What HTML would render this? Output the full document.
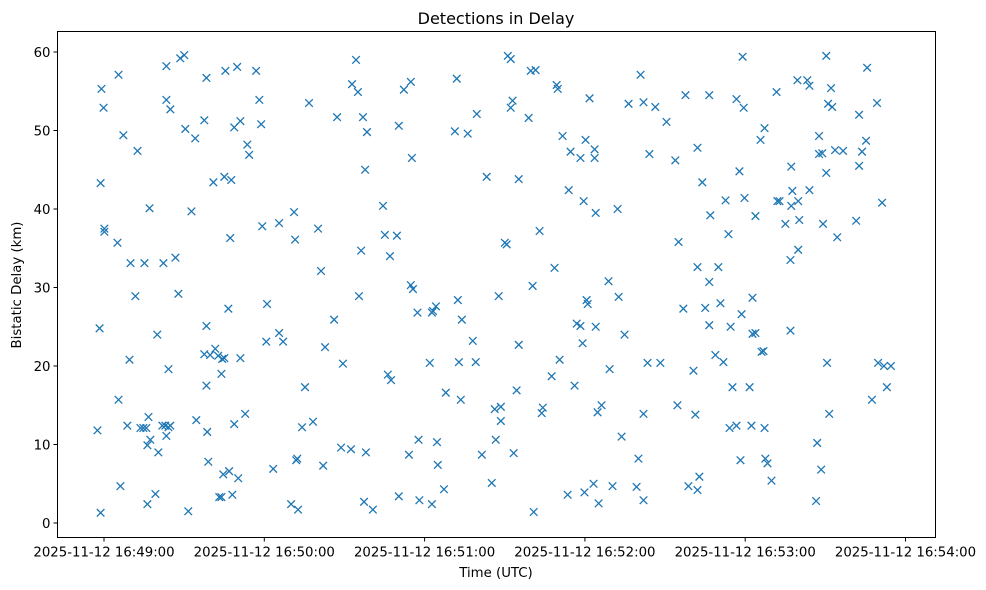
<!DOCTYPE html>
<html><head><meta charset="utf-8"><style>
body{margin:0;background:#fff;}
svg{display:block;font-family:"DejaVu Sans","Liberation Sans",sans-serif;}
</style></head><body>
<svg id="chart" width="986" height="590">
<rect x="0" y="0" width="986" height="590" fill="#fff"/>
<text x="496" y="24" text-anchor="middle" font-size="16">Detections in Delay</text>
<text x="496" y="577" text-anchor="middle" font-size="13.3">Time (UTC)</text>
<text transform="translate(21,285) rotate(-90)" text-anchor="middle" font-size="13.3">Bistatic Delay (km)</text>
<g id="marks"></g>
<g id="axes"></g>
</svg>
<script>
const xTickLabels=["2025-11-12 16:49:00","2025-11-12 16:50:00","2025-11-12 16:51:00","2025-11-12 16:52:00","2025-11-12 16:53:00","2025-11-12 16:54:00"];
const xTickSeconds=[0,60,120,180,240,300];
const yTickValues=[0,10,20,30,40,50,60];
const timesSec=[-1.9,-0.7,-1.1,-0.4,-0.7,0.7,0.4,0.7,6.0,6.0,5.6,6.7,7.8,9.3,10.1,10.5,12.3,13.1,14.2,15.3,15.7,16.4,16.8,17.2,17.6,17.9,16.8,19.8,20.5,20.9,22.4,22.8,23.5,23.9,23.9,23.9,24.7,25.4,24.7,25.4,27.3,28.4,29.1,30.6,31.0,32.1,33.3,34.7,35.1,38.1,38.1,38.9,38.9,38.9,39.2,39.6,40.3,41.5,42.2,43.3,43.7,44.5,44.5,44.8,45.2,45.6,46.0,45.6,47.1,47.4,47.8,48.2,48.6,49.3,49.3,50.4,50.8,51.6,51.6,53.4,54.2,54.9,57.5,58.7,59.4,59.8,61.3,61.6,63.9,66.1,66.1,67.6,70.6,71.7,72.1,72.5,72.9,73.2,74.7,75.8,77.3,78.8,80.7,81.8,82.6,83.3,86.7,87.8,89.3,90.0,93.0,93.4,94.9,95.6,96.0,96.8,97.5,97.9,98.3,98.6,99.0,101.2,105.0,105.7,106.8,107.6,108.0,110.2,110.9,110.9,112.8,114.7,115.4,115.4,115.8,116.2,117.9,118.3,118.6,123.3,122.5,123.3,123.7,124.8,125.2,125.5,127.8,128.5,131.9,132.6,133.0,133.4,134.1,134.5,136.7,138.6,139.7,140.1,142.0,143.8,145.7,146.8,147.2,148.3,149.1,149.1,150.6,151.3,151.7,152.8,152.8,153.5,153.9,155.0,155.8,155.8,159.5,160.3,161.0,161.4,162.1,163.6,164.4,164.8,168.1,169.2,170.0,170.4,171.1,172.2,174.1,174.5,175.2,176.7,177.5,178.9,178.9,179.7,180.1,180.4,180.8,181.2,181.6,182.3,183.8,184.2,184.2,184.6,184.6,185.3,185.7,186.8,189.4,189.8,190.9,192.8,193.2,194.3,195.4,196.9,199.9,200.6,201.4,202.5,202.5,202.5,204.0,204.7,206.9,208.8,211.1,214.4,215.2,215.6,217.4,218.2,219.3,221.2,221.9,222.7,222.7,223.4,222.7,224.5,225.6,227.1,227.1,227.5,227.1,229.4,230.5,231.3,232.4,233.2,234.3,234.7,235.1,235.8,237.3,237.3,238.4,238.8,239.2,239.6,240.0,240.3,242.2,242.9,243.3,243.3,244.4,244.4,246.3,246.7,247.4,247.8,247.8,248.1,248.9,250.4,252.3,252.6,253.4,255.6,257.5,257.5,257.8,258.2,257.8,260.1,260.4,260.4,260.8,263.8,264.6,264.6,267.1,267.5,268.2,268.2,269.0,269.4,269.7,270.9,270.9,271.2,271.6,272.0,272.7,273.1,274.2,275.0,277.2,282.1,283.2,283.2,284.3,285.8,286.2,288.0,289.9,290.3,291.8,292.5,293.6,295.1];
const delaysKm=[11.8,1.3,24.8,55.3,43.3,37.1,52.9,37.5,57.1,15.7,35.7,4.7,49.4,12.4,20.8,33.1,28.9,47.4,12.1,12.1,33.1,12.1,2.4,13.5,40.1,10.6,9.9,3.7,24.0,9.0,12.4,33.1,12.4,58.2,11.1,53.9,12.2,52.7,19.6,12.4,33.8,29.2,59.2,59.6,50.2,1.5,39.7,49.0,13.1,21.5,51.3,56.7,25.1,17.5,11.6,7.8,21.4,43.4,22.2,21.3,3.3,3.3,19.0,20.9,6.2,21.0,57.6,44.1,27.3,6.6,36.3,43.7,3.6,12.6,50.4,58.1,5.7,51.2,21.0,13.9,48.2,46.9,57.6,53.9,50.8,37.8,23.1,27.9,6.9,38.2,24.2,23.1,2.4,39.6,36.1,8.0,8.2,1.7,12.2,17.3,53.5,12.9,37.5,32.1,7.3,22.4,25.9,51.7,9.6,20.3,9.4,55.9,59.0,54.9,28.9,34.7,51.7,2.7,45.0,9.0,49.8,1.7,40.4,36.7,18.9,34.0,18.2,36.6,50.6,3.4,55.2,8.7,56.2,30.3,46.5,29.8,26.8,10.6,2.9,26.8,20.4,2.4,27.0,27.6,10.3,7.4,4.3,16.6,49.9,56.6,28.4,20.5,15.7,25.9,49.6,23.2,20.5,52.1,8.7,44.1,5.1,14.5,10.6,28.9,14.8,13.0,35.7,35.5,59.5,59.1,52.9,53.8,8.9,16.9,43.8,22.7,51.6,57.6,30.2,1.4,57.7,37.2,14.0,14.7,18.7,32.5,55.8,55.3,20.8,49.3,3.6,42.4,47.3,17.5,25.4,25.1,46.5,22.9,41.0,3.9,48.8,28.4,27.9,54.1,5.0,46.5,47.6,25.0,39.5,14.1,2.5,15.0,30.8,19.6,4.7,40.0,28.8,11.0,24.0,53.4,4.6,8.2,57.1,53.6,13.9,2.9,20.4,47.0,53.0,20.4,51.1,46.2,15.0,35.8,27.3,54.5,4.7,19.4,13.8,47.8,4.2,5.9,32.6,43.4,27.4,54.5,25.2,39.2,30.7,21.4,32.6,28.0,20.5,41.1,36.8,12.1,25.0,17.3,54.0,12.4,44.8,8.0,26.6,59.4,52.9,41.4,17.3,12.4,28.7,24.1,24.2,39.1,48.8,21.8,21.9,12.1,50.3,8.2,7.6,5.4,54.9,41.0,41.0,38.1,24.5,33.5,45.4,42.3,40.4,56.4,34.8,41.0,38.6,56.4,55.7,42.4,2.8,10.2,47.0,49.3,6.8,47.1,38.1,59.5,44.6,20.4,53.4,13.9,55.4,53.0,47.5,36.4,47.4,38.5,45.5,52.0,47.3,48.7,58.0,15.7,53.5,20.4,40.8,20.0,17.3,20.0];

const NS='http://www.w3.org/2000/svg';
const L=57.5,R=935.5,T=31.5,B=537.5;
function xs(s){return 102.5+s*160.3/60;}
function ys(v){return 523-v*7.85;}
function mk(tag,attrs,parent){const e=document.createElementNS(NS,tag);for(const k in attrs)e.setAttribute(k,attrs[k]);parent.appendChild(e);return e;}
const marks=document.getElementById('marks');
const axes=document.getElementById('axes');
for(let i=0;i<timesSec.length;i++){
  const cx=xs(timesSec[i]),cy=ys(delaysKm[i]),d=3.8;
  const p=mk('path',{d:`M${cx-d},${cy-d}L${cx+d},${cy+d}M${cx-d},${cy+d}L${cx+d},${cy-d}`,stroke:'#1f77b4','stroke-width':1.3,fill:'none'},marks);
  
  
}
const frame=mk('rect',{x:L,y:T,width:R-L,height:B-T,fill:'none',stroke:'#000','stroke-width':1},axes);


xTickSeconds.forEach((s,i)=>{
  const x=xs(s)+1.5;
  mk('line',{x1:x,x2:x,y1:B,y2:B+4,stroke:'#000'},axes);
  const t=mk('text',{x:x,y:B+19,'text-anchor':'middle','font-size':13.3},axes);
  t.textContent=xTickLabels[i];
  
  
});
yTickValues.forEach(v=>{
  const y=ys(v);
  mk('line',{x1:L-4,x2:L,y1:y,y2:y,stroke:'#000'},axes);
  const t=mk('text',{x:L-7,y:y+5,'text-anchor':'end','font-size':13.3},axes);
  t.textContent=String(v);
  
  
});
</script>
</body></html>
